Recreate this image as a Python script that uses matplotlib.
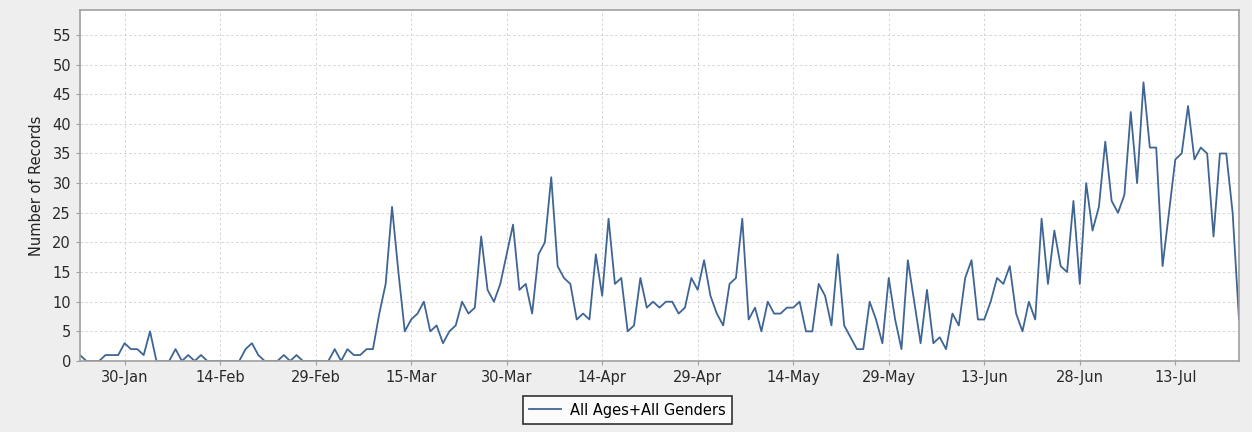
import numpy as np
import pandas as pd
import matplotlib
matplotlib.use("Agg")
import matplotlib.pyplot as plt
import matplotlib.dates as mdates

# daily counts, 23-Jan .. 23-Jul 2020
start = "2020-01-23"
jan = [1, 0, 0, 0, 1, 1, 1, 3, 2]
feb = [2, 1, 5, 0, 0, 0, 2, 0, 1, 0, 1, 0, 0, 0, 0, 0, 0, 2, 3, 1,
       0, 0, 0, 1, 0, 1, 0, 0, 0]
mar = [0, 0, 2, 0, 2, 1, 1, 2, 2, 8, 13, 26, 15, 5, 7, 8, 10, 5, 6, 3,
       5, 6, 10, 8, 9, 21, 12, 10, 13, 18, 23]
apr = [12, 13, 8, 18, 20, 31, 16, 14, 13, 7, 8, 7, 18, 11, 24, 13, 14, 5, 6, 14,
       9, 10, 9, 10, 10, 8, 9, 14, 12, 17]
may = [11, 8, 6, 13, 14, 24, 7, 9, 5, 10, 8, 8, 9, 9, 10, 5, 5, 13, 11, 6,
       18, 6, 4, 2, 2, 10, 7, 3, 14, 7, 2]
jun = [17, 10, 3, 12, 3, 4, 2, 8, 6, 14, 17, 7, 7, 10, 14, 13, 16, 8, 5, 10,
       7, 24, 13, 22, 16, 15, 27, 13, 30, 22]
jul = [26, 37, 27, 25, 28, 42, 30, 47, 36, 36, 16, 25, 34, 35, 43, 34, 36, 35, 21, 35,
       35, 25, 7]

counts = jan + feb + mar + apr + may + jun + jul
dates = pd.date_range(start, periods=len(counts), freq="D")
series_label = "All Ages+All Genders"

LINE = "#3f6594"
GRID = "#d4d4d4"

fig = plt.figure(figsize=(12.52, 4.32), dpi=100, facecolor="#eeeeee")
ax = fig.add_axes([80 / 1252, 1 - 361 / 432, (1239 - 80) / 1252, (361 - 10) / 432])
ax.set_facecolor("white")

ax.plot(dates, counts, color=LINE, lw=1.3, label=series_label)

ax.set_xlim(dates[0], dates[-1])
ax.set_ylim(0, 59.2)
ax.set_yticks(range(0, 60, 5))
ticks = pd.date_range("2020-01-30", dates[-1], freq="15D")
ax.set_xticks(ticks)
ax.xaxis.set_major_formatter(mdates.DateFormatter("%d-%b"))

ax.grid(True, color=GRID, linestyle=(0, (2.5, 2.5)), lw=0.7)
for s in ax.spines.values():
    s.set_color("#a0a0a0")
    s.set_linewidth(1.2)
ax.tick_params(axis="both", colors="#a0a0a0", labelcolor="#2a2a2a",
               labelsize=10.5, length=3)
ax.set_ylabel("Number of Records", fontsize=10.5, color="#222222", labelpad=6)

leg = fig.legend(loc="center", bbox_to_anchor=(627.5 / 1252, 1 - 410 / 432),
                 fontsize=10.5, frameon=True, fancybox=False, handlelength=2.2,
                 borderpad=0.45, handletextpad=0.6)
leg.get_frame().set_edgecolor("black")
leg.get_frame().set_linewidth(1.2)

fig.savefig("out.png", dpi=100, facecolor=fig.get_facecolor())
